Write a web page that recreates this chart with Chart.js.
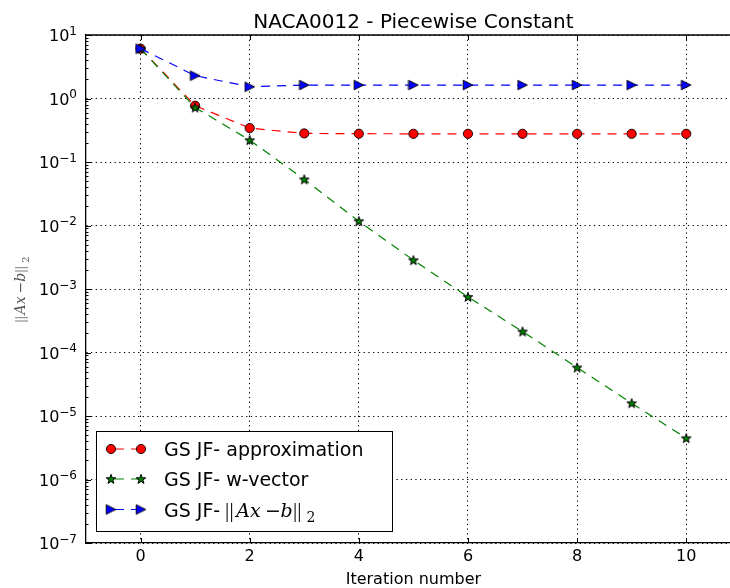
<!DOCTYPE html>
<html>
<head>
<meta charset="utf-8">
<script src="https://cdn.jsdelivr.net/npm/chart.js@4/dist/chart.umd.min.js"></script>
<style>
  html, body { margin: 0; padding: 0; background: #fff; overflow: hidden; width: 730px; height: 588px; }
  #wrap { position: relative; width: 747px; height: 588px; }
  canvas { display: block; }
</style>
</head>
<body>
<div id="wrap"><canvas id="chart" width="747" height="588"></canvas></div>
<script>
// Iteration index and residual histories (log scale)
const iterations = [0, 1, 2, 3, 4, 5, 6, 7, 8, 9, 10];
const approximation = [6.1, 0.77, 0.342, 0.282, 0.279, 0.278, 0.278, 0.278, 0.278, 0.278, 0.278];
const wVector = [6.1, 0.72, 0.221, 0.0532, 0.0117, 0.00284, 0.00075, 0.000214, 0.000058, 0.0000159, 0.00000447];
const residualNorm = [6.1, 2.29, 1.53, 1.63, 1.63, 1.63, 1.63, 1.63, 1.63, 1.63, 1.63];

const xTickValues = [0, 2, 4, 6, 8, 10];
const yExponents = [-7, -6, -5, -4, -3, -2, -1, 0, 1];

const seriesNames = ['GS JF- approximation', 'GS JF- w-vector', 'GS JF- '];
const titleText = 'NACA0012 - Piecewise Constant';
const xTitleText = 'Iteration number';

const FONT = '"DejaVu Sans", sans-serif';
const SERIF = '"DejaVu Serif", "Liberation Serif", serif';
const THIN_SERIF = '"Liberation Serif", "DejaVu Serif", serif';
const LINE_DASH = [9, 7];
const GRID_DASH = [1.3, 3.4];

// Filled marker sprites
function makeStar(fill) {
  const c = document.createElement('canvas');
  c.width = 12; c.height = 12;
  const g = c.getContext('2d');
  const R = 5, r = R * 0.4, cx = 6, cy = 6.4;
  g.beginPath();
  for (let i = 0; i < 10; i++) {
    const a = -Math.PI / 2 + i * Math.PI / 5;
    const rad = i % 2 === 0 ? R : r;
    const px = cx + rad * Math.cos(a), py = cy + rad * Math.sin(a);
    if (i === 0) g.moveTo(px, py); else g.lineTo(px, py);
  }
  g.closePath();
  g.fillStyle = fill; g.fill();
  g.lineWidth = 1; g.strokeStyle = '#000'; g.stroke();
  return c;
}
function makeTriangleRight(fill) {
  const c = document.createElement('canvas');
  c.width = 12; c.height = 12;
  const g = c.getContext('2d');
  g.beginPath();
  g.moveTo(10.8, 6);
  g.lineTo(1.2, 1.2);
  g.lineTo(1.2, 10.8);
  g.closePath();
  g.fillStyle = fill; g.fill();
  g.lineWidth = 0.9; g.strokeStyle = '#000'; g.stroke();
  return c;
}
const starSprite = makeStar('#008000');
const triSprite = makeTriangleRight('#0000ff');

function isDecade(v) {
  const e = Math.log10(v);
  return Math.abs(e - Math.round(e)) < 1e-9;
}

// ||Ax-b||_2 laid out as math: each glyph placed at an em offset
function mathRuns(s) {
  const up = `${s}px ${SERIF}`;
  const it = `italic ${s}px ${SERIF}`;
  const bar = `${Math.round(s * 1.1)}px ${THIN_SERIF}`;
  return [
    { t: '|', f: bar, at: 0.05, align: 'center' },
    { t: '|', f: bar, at: 0.28, align: 'center' },
    { t: 'A', f: it, at: 0.52 },
    { t: 'x', f: it, at: 1.25 },
    { t: '\u2212', f: up, at: 2.04 },
    { t: 'b', f: it, at: 2.86 },
    { t: '|', f: bar, at: 3.62, align: 'center' },
    { t: '|', f: bar, at: 3.85, align: 'center' },
    { t: '2', f: `${Math.round(s * 0.72)}px ${SERIF}`, at: 4.22, dy: 0.27 }
  ];
}
const MATH_WIDTH_EM = 4.68;
function drawMath(ctx, x, y, s) {
  ctx.textBaseline = 'alphabetic';
  for (const r of mathRuns(s)) {
    ctx.font = r.f;
    ctx.textAlign = r.align || 'left';
    ctx.fillText(r.t, x + r.at * s, y + (r.dy || 0) * s);
  }
  ctx.textAlign = 'left';
  return MATH_WIDTH_EM * s;
}

const decorations = {
  id: 'decorations',
  afterDraw(chart) {
    const ctx = chart.ctx;
    const area = chart.chartArea;
    const xs = chart.scales.x, ys = chart.scales.y;
    ctx.save();

    // top spine
    ctx.strokeStyle = '#000';
    ctx.lineWidth = 1.3;
    ctx.beginPath();
    ctx.moveTo(area.left, area.top);
    ctx.lineTo(area.right, area.top);
    ctx.stroke();

    // inward tick marks
    ctx.lineWidth = 1;
    ctx.beginPath();
    for (const v of xTickValues) {
      const px = Math.round(xs.getPixelForValue(v)) + 0.5;
      ctx.moveTo(px, area.bottom); ctx.lineTo(px, area.bottom - 5);
      ctx.moveTo(px, area.top); ctx.lineTo(px, area.top + 5);
    }
    for (const t of ys.ticks) {
      const py = Math.round(ys.getPixelForValue(t.value)) + 0.5;
      const len = isDecade(t.value) ? 5 : 2.5;
      ctx.moveTo(area.left, py); ctx.lineTo(area.left + len, py);
    }
    ctx.stroke();

    // y tick labels 10^n
    ctx.fillStyle = '#000';
    ctx.textBaseline = 'alphabetic';
    for (const e of yExponents) {
      const py = ys.getPixelForValue(Math.pow(10, e));
      const exp = String(e).replace('-', '\u2212');
      ctx.font = `12px ${FONT}`;
      const ew = ctx.measureText(exp).width;
      const right = 77;
      ctx.textAlign = 'left';
      ctx.fillText(exp, right - ew, py - 0.5);
      ctx.font = `16px ${FONT}`;
      ctx.textAlign = 'right';
      ctx.fillText('10', right - ew, py + 6);
    }

    // title
    ctx.font = `20px ${FONT}`;
    ctx.textAlign = 'center';
    ctx.fillText(titleText, (area.left + area.right) / 2, 27.5);

    // y axis title (rotated)
    ctx.save();
    ctx.translate(25, (area.top + area.bottom) / 2);
    ctx.rotate(-Math.PI / 2);
    ctx.fillStyle = '#555';
    const ys2 = 14;
    drawMath(ctx, -MATH_WIDTH_EM * ys2 / 2, 0, ys2);
    ctx.restore();

    // legend
    const box = { x: 96.5, y: 431.5, w: 296, h: 100 };
    ctx.fillStyle = '#fff';
    ctx.fillRect(box.x, box.y, box.w, box.h);
    ctx.strokeStyle = '#000';
    ctx.lineWidth = 1;
    ctx.strokeRect(box.x, box.y, box.w, box.h);
    const rows = [449, 479, 509.5];
    const ds = chart.data.datasets;
    for (let i = 0; i < ds.length; i++) {
      const d = ds[i];
      const ry = rows[i];
      const x1 = 111, x2 = 141;
      ctx.save();
      ctx.strokeStyle = d.borderColor;
      ctx.lineWidth = d.borderWidth;
      ctx.setLineDash(LINE_DASH);
      ctx.lineDashOffset = -4;
      ctx.beginPath();
      ctx.moveTo(x1, ry); ctx.lineTo(x2, ry);
      ctx.stroke();
      ctx.restore();
      for (const mx of [x1, x2]) {
        if (d.pointStyle === 'circle') {
          ctx.beginPath();
          ctx.arc(mx, ry, d.pointRadius, 0, Math.PI * 2);
          ctx.fillStyle = d.pointBackgroundColor; ctx.fill();
          ctx.lineWidth = d.pointBorderWidth; ctx.strokeStyle = d.pointBorderColor; ctx.stroke();
        } else {
          const img = d.pointStyle;
          ctx.drawImage(img, mx - img.width / 2, ry - img.height / 2);
        }
      }
      ctx.fillStyle = '#000';
      ctx.font = `19px ${FONT}`;
      ctx.textAlign = 'left';
      ctx.textBaseline = 'alphabetic';
      ctx.fillText(d.label, 164, ry + 7);
      if (i === 2) {
        const lw = ctx.measureText(d.label).width;
        drawMath(ctx, 164 + lw, ry + 7, 19);
      }
    }
    ctx.restore();
  }
};

const toXY = (vals) => iterations.map((x, i) => ({ x, y: vals[i] }));

new Chart(document.getElementById('chart'), {
  type: 'line',
  data: {
    datasets: [
      {
        label: seriesNames[0],
        data: toXY(approximation),
        borderColor: '#ff0000',
        borderWidth: 1.2,
        borderDash: LINE_DASH,
        pointStyle: 'circle',
        pointRadius: 4.6,
        pointBackgroundColor: '#ff0000',
        pointBorderColor: '#000',
        pointBorderWidth: 0.9,
        tension: 0,
        order: 3
      },
      {
        label: seriesNames[1],
        data: toXY(wVector),
        borderColor: '#008000',
        borderWidth: 1.2,
        borderDash: LINE_DASH,
        pointStyle: starSprite,
        pointRadius: 5,
        tension: 0,
        order: 2
      },
      {
        label: seriesNames[2],
        data: toXY(residualNorm),
        borderColor: '#0000ff',
        borderWidth: 1.2,
        borderDash: LINE_DASH,
        pointStyle: triSprite,
        pointRadius: 5,
        tension: 0,
        order: 1
      }
    ]
  },
  options: {
    responsive: false,
    animation: false,
    events: [],
    devicePixelRatio: 1,
    layout: { padding: { top: 35, right: 1, left: 0, bottom: 0 } },
    plugins: { legend: { display: false }, title: { display: false }, tooltip: { enabled: false } },
    scales: {
      x: {
        type: 'linear',
        min: -1,
        max: 11,
        afterBuildTicks: (scale) => { scale.ticks = xTickValues.map(v => ({ value: v })); },
        afterFit: (scale) => { scale.height = 45; },
        ticks: { font: { family: FONT, size: 16 }, color: '#000', padding: 4, autoSkip: false, maxRotation: 0 },
        grid: { color: '#000', lineWidth: 1, drawTicks: false },
        border: { color: '#000', width: 1.3, dash: GRID_DASH },
        title: { display: true, text: xTitleText, font: { family: FONT, size: 16 }, color: '#000', padding: { top: 0, bottom: -1 } }
      },
      y: {
        type: 'logarithmic',
        min: 1e-7,
        max: 10,
        afterBuildTicks: (scale) => {
          const ticks = [];
          for (const e of yExponents) {
            const mults = e === yExponents[yExponents.length - 1] ? [1] : [1, 2, 3, 4, 5, 6, 7, 8, 9];
            for (const m of mults) ticks.push({ value: m * Math.pow(10, e) });
          }
          scale.ticks = ticks;
        },
        afterFit: (scale) => { scale.width = 86; },
        ticks: { display: false },
        grid: {
          drawTicks: false,
          lineWidth: 1,
          color: (ctx) => (ctx.tick && isDecade(ctx.tick.value)) ? '#000' : 'rgba(0,0,0,0)'
        },
        border: { color: '#000', width: 1.3, dash: GRID_DASH }
      }
    }
  },
  plugins: [decorations]
});
</script>
</body>
</html>
